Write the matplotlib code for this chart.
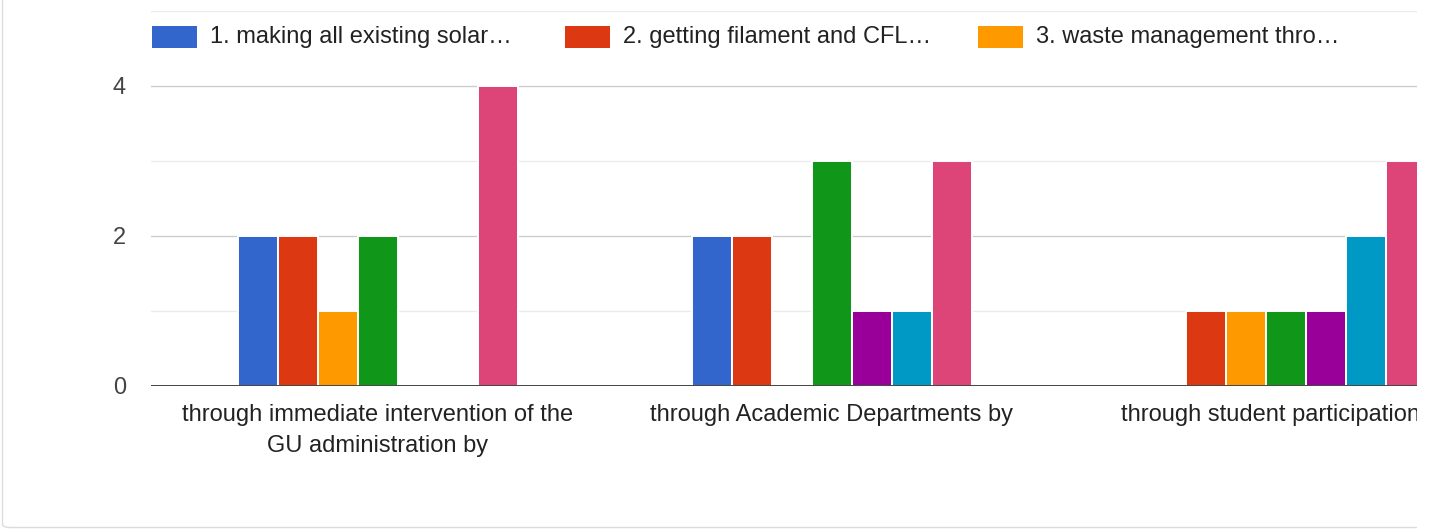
import numpy as np
import matplotlib.pyplot as plt
from matplotlib.patches import Rectangle, FancyBboxPatch

categories = [
    "through immediate intervention of the\nGU administration by",
    "through Academic Departments by",
    "through student participation by",
]
series_names = [
    "1. making all existing solar\u2026",
    "2. getting filament and CFL\u2026",
    "3. waste management thro\u2026",
    "4.", "5.", "6.", "7.",
]
colors = ["#3366cc", "#dc3912", "#ff9900", "#109618", "#990099", "#0099c6", "#dd4477"]
values = [
    [2, 2, 0],   # series 1
    [2, 2, 1],   # series 2
    [1, 0, 1],   # series 3
    [2, 3, 1],   # series 4
    [0, 1, 1],   # series 5
    [0, 1, 2],   # series 6
    [4, 3, 3],   # series 7
]

W, H = 1440, 529
plt.rcParams['font.family'] = ['Liberation Sans', 'DejaVu Sans']
fig = plt.figure(figsize=(W / 100, H / 100), dpi=100)

# card border (right side runs off the picture)
card = FancyBboxPatch((2.5 / W, 1.5 / H), 1.2, 1.2,
                      boxstyle="round,pad=0,rounding_size=0.006",
                      transform=fig.transFigure, facecolor="white",
                      edgecolor="#dadce0", linewidth=1.0, zorder=-5)
fig.patches.append(card)

left, right, bottom_px, top_px = 151, 1417, 386, 11
ax = fig.add_axes([left / W, (H - bottom_px) / H, (right - left) / W, (bottom_px - top_px) / H])
ax.set_facecolor("none")

px_per_unit = 454
xmin = -0.5
ax.set_xlim(xmin, xmin + (right - left) / px_per_unit)
ax.set_ylim(0, 5)

slot = 40 / px_per_unit
n = len(values)
x = np.arange(len(categories))
for i, (vals, c) in enumerate(zip(values, colors)):
    ax.bar(x + (i - (n - 1) / 2) * slot, vals, width=slot, color=c,
           edgecolor="white", linewidth=1.4, zorder=2)

ax.set_yticks([0, 2, 4])
ax.set_yticks([1, 3, 5], minor=True)
ax.grid(axis="y", which="major", color="#cccccc", linewidth=1.0, zorder=0)
ax.grid(axis="y", which="minor", color="#ebebeb", linewidth=1.0, zorder=0)
ax.set_axisbelow(True)
ax.axhline(0, color="#333333", linewidth=2.0, zorder=3)
for s in ax.spines.values():
    s.set_visible(False)

ax.set_xticks(x)
ax.set_xticklabels(categories, fontsize=17, color="#222222", linespacing=1.5)
ax.tick_params(axis="x", length=0, pad=13)
ax.tick_params(axis="y", which="both", length=0, pad=18, labelsize=17, labelcolor="#444444")

# the chart is cut off on the right
fig.add_artist(Rectangle((right / W, 0), (W - right) / W, 1, transform=fig.transFigure,
                         facecolor="white", edgecolor="none", zorder=5))

# legend (first three entries visible)
leg_y = 37
for k in range(3):
    x0 = 152 + k * 413
    fig.add_artist(Rectangle((x0 / W, (H - leg_y - 11) / H), 45 / W, 22 / H,
                             transform=fig.transFigure, facecolor=colors[k],
                             edgecolor="none", zorder=6))
    fig.text((x0 + 58) / W, (H - leg_y) / H, series_names[k], fontsize=17,
             color="#222222", va="center", ha="left", zorder=6)

fig.savefig("out.png", dpi=100)
